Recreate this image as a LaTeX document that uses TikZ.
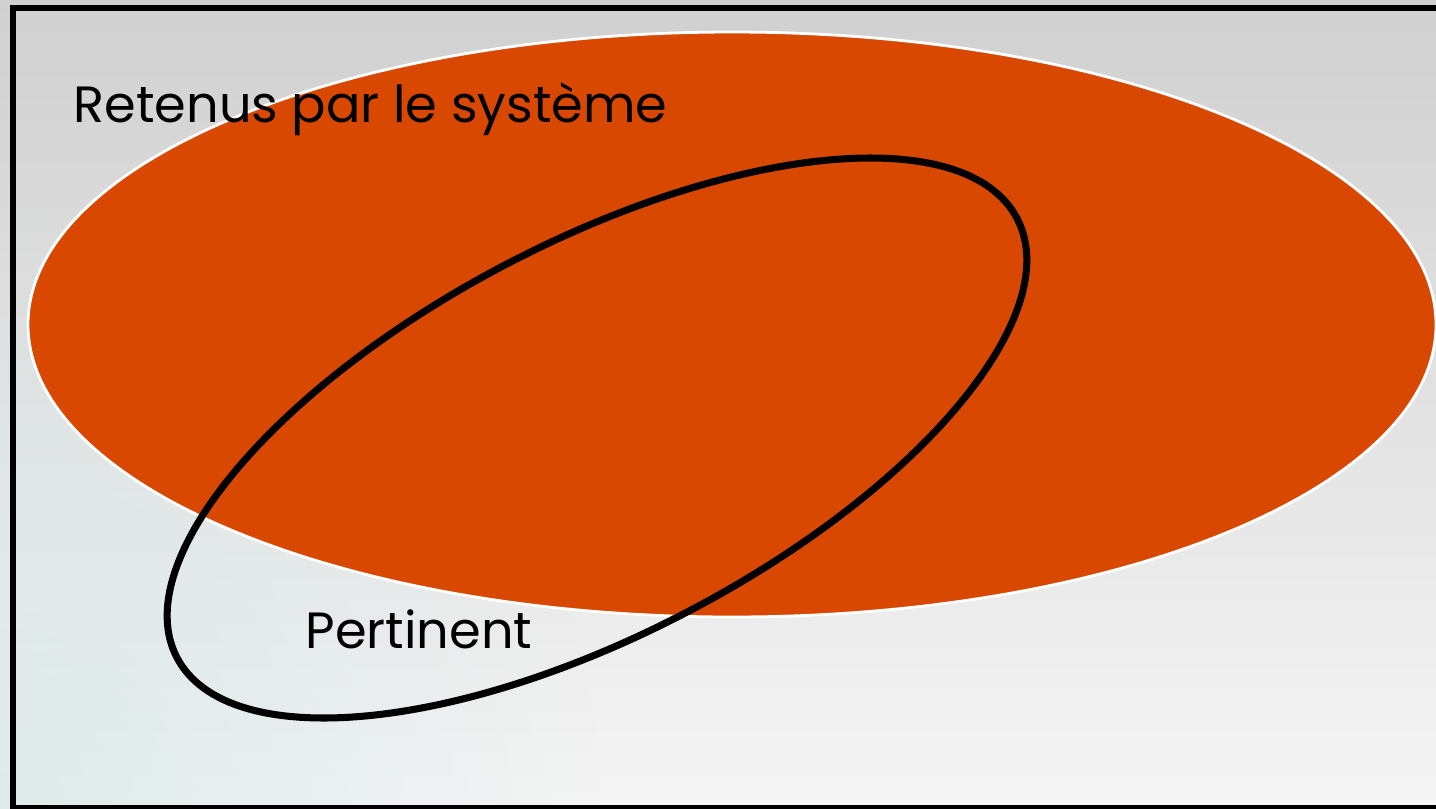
\documentclass[tikz,border=0pt]{standalone}
\usepackage{fontspec}
\setmainfont{Poppins}
\usepackage{xcolor}
\definecolor{sysorange}{RGB}{216,72,0}
\definecolor{bgtop}{RGB}{208,208,208}
\definecolor{bgbottom}{RGB}{245,245,245}
\definecolor{bgtint}{RGB}{216,232,232}
\usetikzlibrary{fadings}
\tikzfading[name=cornerfade, inner color=transparent!0, outer color=transparent!100]
\tikzset{
  setfill/.style={fill=sysorange, draw=white, line width=0.8pt},
  setline/.style={draw=black, line width=2pt},
  setlabel/.style={anchor=base west, inner sep=0pt,
    font=\fontsize{14.5}{17}\selectfont},
  framebox/.style={draw=black, line width=1.7pt},
}

\begin{document}
\begin{tikzpicture}
  \useasboundingbox (0,0) rectangle (14.36,-8.08);
  \clip (0,0) rectangle (14.36,-8.08);

  % Background
  \shade[top color=bgtop, bottom color=bgbottom] (0,0) rectangle (14.36,-8.08);
  \fill[bgtint, path fading=cornerfade, opacity=0.75] (0,-8.08) circle (6);
  \draw[framebox] (0.13,-0.08) rectangle (14.6,-8.08);

  % Sets
  \coordinate (S) at (7.32,-3.245);   % retenus
  \coordinate (P) at (5.97,-4.38);    % pertinent
  \draw[setfill] (S) ellipse (7.04 and 2.925);
  \draw[setline, rotate around={27.6:(P)}] (P) ellipse (4.74 and 1.96);

  % Labels
  \node[setlabel] (retenus) at (0.73,-1.22) {Retenus par le système};
  \node[setlabel] (pertinent) at (3.05,-6.48) {Pertinent};
\end{tikzpicture}
\end{document}
